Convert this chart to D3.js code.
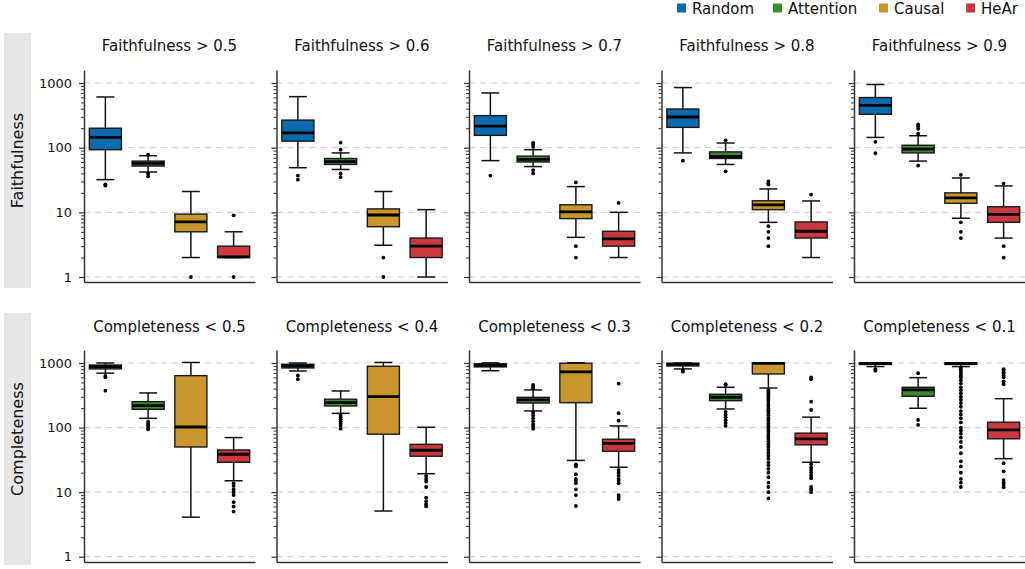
<!DOCTYPE html>
<html>
<head>
<meta charset="utf-8">
<script src="https://cdn.jsdelivr.net/npm/d3@7"></script>
<style>
  body { margin: 0; background: #fff; }
  svg { display: block; font-family: "DejaVu Sans", sans-serif; }
  .axis path, .axis line { stroke: #333; }
  .axis text { font-size: 13px; fill: #111; font-family: "DejaVu Sans", sans-serif; }
</style>
</head>
<body>
<div id="chart"></div>
<script>
const methods = ["Random", "Attention", "Causal", "HeAr"];
const colors = ["#0b6aad", "#3a8a2f", "#c8962b", "#c8383c"];

const faithTitles = ["Faithfulness > 0.5", "Faithfulness > 0.6", "Faithfulness > 0.7", "Faithfulness > 0.8", "Faithfulness > 0.9"];
const compTitles = ["Completeness < 0.5", "Completeness < 0.4", "Completeness < 0.3", "Completeness < 0.2", "Completeness < 0.1"];

// [low whisker, q1, median, q3, high whisker] per panel, per method
const faithBoxes = [
  [[32, 93, 144, 200, 608], [42, 52, 57, 62, 75], [2, 5, 7.1, 9.4, 21], [2, 2, 2.05, 3, 5]],
  [[49, 126, 169, 267, 615], [46, 55, 61, 68, 83], [3.1, 6, 9.1, 11.3, 21], [1, 2, 3, 4, 11]],
  [[63, 155, 216, 313, 702], [51, 60, 66, 74, 93], [4.1, 8, 10.2, 13.1, 25], [2, 3, 3.9, 5.1, 10]],
  [[83, 206, 298, 396, 850], [55, 68, 73, 86, 118], [7, 11, 13, 15.1, 23], [2, 4, 5.1, 7.1, 15]],
  [[144, 328, 452, 596, 948], [62, 83, 95, 109, 153], [8.1, 13.8, 16.7, 20, 34], [4, 7, 9.3, 12.2, 25.6]]
];
const faithOutliers = [
  [[27, 26], [78, 40, 36], [1], [9, 1]],
  [[37, 32], [120, 93, 40, 35], [2, 1], []],
  [[37], [119, 112, 102, 45, 40], [29, 3, 2], [14]],
  [[63], [130, 43], [30, 28, 27, 6.1, 5, 4, 3], [18.8]],
  [[123, 82], [229, 215, 196, 164, 53], [38, 7, 5, 4], [27.8, 3, 2]]
];

const compBoxes = [
  [[695, 810, 880, 930, 1000], [139, 192, 218, 252, 344], [4.1, 50, 102, 637, 1020], [15, 29, 38.6, 45, 70]],
  [[753, 838, 900, 955, 1000], [166, 216, 243, 275, 369], [5.1, 79, 301, 890, 1020], [19.3, 36, 44.5, 55, 101]],
  [[760, 870, 922, 975, 1005], [181, 240, 268, 294, 383], [31, 243, 727, 990, 1010], [24.3, 43, 57, 66, 106]],
  [[810, 900, 960, 990, 1000], [194, 261, 295, 328, 421], [410, 676, 985, 1000, 1005], [29, 54, 67, 82, 145]],
  [[880, 950, 985, 1000, 1005], [199, 305, 383, 421, 593], [880, 950, 990, 1000, 1005], [33, 67, 92, 121, 280]]
];
const compOutliers = [
  [[630, 600, 373], [123, 115, 108, 100, 94], [], [13.7, 12.5, 11, 10, 9, 7, 6, 5]],
  [[640, 560], [157, 145, 135, 125, 115, 106, 96], [], [17.8, 16, 14.5, 12, 8.2, 7.2, 6.5, 6]],
  [[], [457, 430, 405, 170, 155, 140, 125, 112, 104, 96], [27, 26, 25, 19, 16, 15, 13.7, 11, 9, 6.1], [479, 167, 128, 22, 20, 18, 16, 15, 13.7, 9, 8.5, 7.8]],
  [[760, 735], [470, 457, 175, 160, 145, 130, 118, 106], [380, 360, 340, 320, 300, 280, 260, 240, 220, 200, 185, 170, 155, 140, 128, 116, 105, 96, 88, 80, 73, 67, 61, 55, 50, 45, 41, 37, 33, 29, 26, 23, 20, 17, 14, 12, 10, 8], [600, 560, 252, 187, 27, 24, 22, 20, 18, 16.4, 12, 11, 10]],
  [[800, 760], [695, 131, 110], [850, 800, 750, 700, 640, 600, 540, 480, 420, 380, 340, 300, 270, 240, 210, 180, 160, 140, 120, 100, 90, 80, 70, 60, 50, 40, 30, 25, 20, 16, 14, 12], [800, 760, 720, 680, 640, 600, 520, 470, 28, 21, 15.4, 14, 13, 11.9]]
];

const majorTicks = [1, 10, 100, 1000];
const minorTicks = [];
[1, 10, 100].forEach(d => { for (let k = 2; k <= 9; k++) minorTicks.push(d * k); });

const W = 1025, H = 569;
const svg = d3.select("#chart").append("svg").attr("width", W).attr("height", H);

const panelLefts = [84, 276.5, 469, 661.5, 854];
const pw = 171;

const x = d3.scaleBand().domain(methods).range([0, pw]).paddingInner(0.25).paddingOuter(0.125);

var rows = [
  {label: "Faithfulness", titles: faithTitles, boxes: faithBoxes, outs: faithOutliers, top: 70, bottom: 282, y1: 277, y1000: 83, titleY: 51, strip: [33, 288]},
  {label: "Completeness", titles: compTitles, boxes: compBoxes, outs: compOutliers, top: 350, bottom: 562, y1: 556.7, y1000: 363, titleY: 332, strip: [313, 565]}
];

rows.forEach(function(row){
  // log scale built from where 1 and 1000 sit, stretched to the axis ends
  var dec = (row.y1 - row.y1000) / 3;
  var y = d3.scaleLog()
    .domain([Math.pow(10, -(row.bottom - row.y1) / dec), Math.pow(10, 3 + (row.y1000 - row.top) / dec)])
    .range([row.bottom, row.top]);

  // grey strip with row label
  svg.append("rect").attr("x", 4).attr("y", row.strip[0]).attr("width", 27)
    .attr("height", row.strip[1] - row.strip[0]).attr("fill", "#e6e6e6");
  svg.append("text")
    .attr("transform", "translate(23," + ((row.strip[0] + row.strip[1]) / 2) + ") rotate(-90)")
    .attr("text-anchor", "middle").style("font-size", "16px").attr("fill", "#111")
    .text(row.label);

  row.titles.forEach(function(title, p){
    var g = svg.append("g").attr("transform", "translate(" + panelLefts[p] + ",0)");

    g.append("text").attr("x", pw / 2).attr("y", row.titleY).attr("text-anchor", "middle")
      .style("font-size", "15px").attr("fill", "#111").text(title);

    // dashed grid lines at decades
    g.selectAll(".grid").data(majorTicks).enter().append("line")
      .attr("x1", 0).attr("x2", pw)
      .attr("y1", d => y(d)).attr("y2", d => y(d))
      .attr("stroke", "#d2d2d2").attr("stroke-width", 1.2).attr("stroke-dasharray", "6,5");

    // minor ticks
    g.append("g").attr("class", "axis")
      .call(d3.axisLeft(y).tickValues(minorTicks).tickSize(3).tickSizeOuter(0).tickFormat(""))
      .call(a => a.select(".domain").remove());
    // major ticks + axis line
    var ax = g.append("g").attr("class", "axis")
      .call(d3.axisLeft(y).tickValues(majorTicks).tickSize(5).tickSizeOuter(0).tickPadding(7)
        .tickFormat(p === 0 ? d3.format("d") : ""));
    ax.select(".domain").attr("stroke-width", 1.5);
    ax.selectAll("line").attr("stroke-width", 1.2);

    g.append("g").attr("class", "axis").attr("transform", "translate(0," + row.bottom + ")")
      .call(d3.axisBottom(x).tickSize(0).tickSizeOuter(0).tickFormat(""))
      .select(".domain").attr("stroke-width", 1.5);

    var bw = x.bandwidth();
    methods.forEach(function(m, i){
      var s = row.boxes[p][i];
      var cx = x(m) + bw / 2;
      var bg = g.append("g");
      bg.append("line").attr("x1", cx).attr("x2", cx).attr("y1", y(s[0])).attr("y2", y(s[4]))
        .attr("stroke", "#111").attr("stroke-width", 1.5);
      [s[0], s[4]].forEach(function(v){
        bg.append("line").attr("x1", cx - bw * 0.28).attr("x2", cx + bw * 0.28)
          .attr("y1", y(v)).attr("y2", y(v)).attr("stroke", "#111").attr("stroke-width", 1.5);
      });
      bg.append("rect").attr("x", x(m)).attr("width", bw)
        .attr("y", y(s[3])).attr("height", Math.max(1, y(s[1]) - y(s[3])))
        .attr("fill", colors[i]).attr("stroke", "#1a1a1a").attr("stroke-width", 1.4);
      bg.append("line").attr("x1", x(m)).attr("x2", x(m) + bw)
        .attr("y1", y(s[2])).attr("y2", y(s[2])).attr("stroke", "#000").attr("stroke-width", 2.8);
      bg.selectAll("circle").data(row.outs[p][i]).enter().append("circle")
        .attr("cx", cx).attr("cy", d => y(d)).attr("r", 1.9).attr("fill", "#000");
    });
  });
});

// legend
var lx = [677, 773, 879, 966];
var lg = svg.selectAll(".leg").data(methods).enter().append("g")
  .attr("transform", (d, i) => "translate(" + lx[i] + ",0)");
lg.append("rect").attr("x", 0).attr("y", 3.5).attr("width", 9).attr("height", 9)
  .attr("fill", (d, i) => colors[i]);
lg.append("text").attr("x", 15).attr("y", 14).style("font-size", "15px").attr("fill", "#111")
  .text(d => d);
</script>
</body>
</html>
